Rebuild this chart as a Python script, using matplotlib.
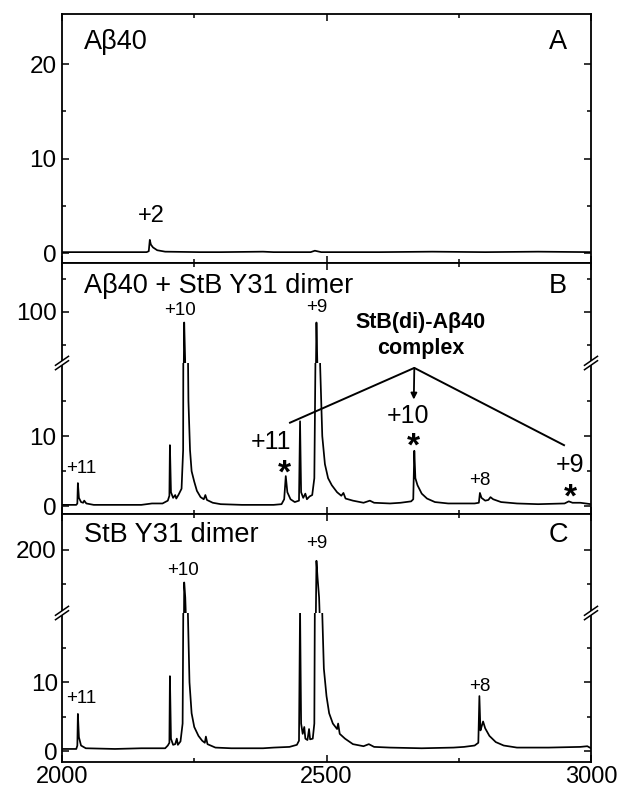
import matplotlib
matplotlib.use('Agg')
import matplotlib.pyplot as plt
from matplotlib.ticker import FixedLocator
from matplotlib.patches import Polygon
from matplotlib.lines import Line2D

plt.rcParams['font.family'] = ['Liberation Sans', 'DejaVu Sans']

a_mz = [2000, 2100, 2160, 2164, 2166, 2168, 2172, 2180, 2195, 2260, 2300, 2380, 2400,
        2470, 2478, 2490, 2600, 2700, 2800, 2900, 3000]
a_int = [0.1, 0.1, 0.1, 0.2, 1.4, 0.9, 0.6, 0.3, 0.15, 0.1, 0.1, 0.15, 0.1,
         0.1, 0.25, 0.1, 0.1, 0.15, 0.1, 0.15, 0.1]

b_mz = [2000, 2027, 2029, 2030, 2032, 2036, 2040, 2042, 2046, 2060, 2150, 2170, 2190,
        2200, 2203, 2204, 2206, 2210, 2214, 2216, 2220, 2226, 2229, 2231, 2233, 2235,
        2237, 2239, 2242, 2245, 2250, 2255, 2262, 2268, 2271, 2274, 2285, 2300, 2340,
        2400, 2415, 2420, 2423, 2426, 2432, 2440, 2448, 2450, 2452, 2456, 2460, 2463,
        2468, 2473, 2477, 2479, 2481, 2483, 2485, 2488, 2492, 2497, 2503, 2510, 2520,
        2528, 2532, 2536, 2550, 2570, 2582, 2590, 2620, 2640, 2660, 2664, 2666, 2668,
        2672, 2680, 2690, 2705, 2730, 2780, 2788, 2790, 2793, 2800, 2806, 2810, 2815,
        2830, 2860, 2900, 2950, 2958, 2965, 2980, 3000]
b_int = [0.2, 0.2, 0.4, 3.3, 1.2, 0.6, 0.5, 0.8, 0.4, 0.2, 0.2, 0.4, 0.4,
         0.8, 1.5, 8.7, 2.0, 1.2, 1.6, 1.1, 1.6, 2.5, 8, 92, 60, 25,
         30, 15, 8, 5, 3.5, 2.2, 1.3, 1.0, 1.6, 0.9, 0.5, 0.3, 0.2,
         0.2, 0.3, 1.0, 4.3, 2.0, 1.0, 0.6, 0.8, 12.1, 2.0, 1.2, 1.8, 1.0,
         1.4, 1.6, 4, 20, 92, 55, 30, 20, 10, 6, 4, 3.0, 2.0,
         1.5, 1.9, 1.1, 0.8, 0.5, 0.8, 0.5, 0.4, 0.5, 0.7, 1.0, 7.9, 4,
         3, 1.8, 1.1, 0.6, 0.4, 0.4, 0.5, 1.9, 1.2, 0.8, 0.9, 1.3, 1.0,
         0.6, 0.4, 0.3, 0.4, 0.7, 0.5, 0.5, 0.3]

c_mz = [2000, 2027, 2029, 2030, 2032, 2036, 2045, 2100, 2150, 2195, 2200, 2203, 2204,
        2206, 2210, 2214, 2217, 2219, 2224, 2228, 2230, 2231, 2233, 2236, 2238, 2241,
        2245, 2250, 2258, 2265, 2270, 2272, 2275, 2290, 2320, 2380, 2400, 2430, 2444,
        2448, 2450, 2452, 2455, 2458, 2460, 2464, 2467, 2469, 2474, 2477, 2479, 2481,
        2483, 2486, 2489, 2492, 2495, 2500, 2505, 2512, 2520, 2522, 2525, 2535, 2550,
        2570, 2580, 2590, 2620, 2680, 2740, 2760, 2780, 2787, 2789, 2791, 2793, 2796,
        2800, 2808, 2820, 2835, 2860, 2920, 2980, 2993, 3000]
c_int = [0.3, 0.3, 0.8, 5.4, 2.0, 0.8, 0.4, 0.3, 0.4, 0.4, 0.8, 1.2, 10.9,
         1.8, 0.9, 1.0, 1.8, 0.9, 1.4, 4, 30, 152, 130, 60, 20, 10,
         5.5, 3.5, 2.2, 1.5, 1.2, 2.1, 1.0, 0.5, 0.4, 0.4, 0.5, 0.6, 0.9,
         1.5, 21, 4, 2.5, 3.5, 1.8, 1.6, 3.2, 1.7, 1.8, 4, 40, 184,
         160, 130, 60, 20, 12, 8, 5.5, 4, 3.2, 4.0, 2.5, 1.8, 1.0,
         0.7, 1.0, 0.6, 0.5, 0.4, 0.5, 0.6, 0.8, 1.2, 8.0, 3, 3.5, 4.3,
         3.3, 2.2, 1.3, 0.8, 0.5, 0.5, 0.6, 0.7, 0.4]

# peak labels: (text, m/z, y)
a_labels = [('+2', 2168, 3.9)]
b_top_labels = [('+10', 2224, 100.8), ('+9', 2481, 103)]
b_low_labels = [('+11', 2037, 5.4), ('+8', 2789, 3.7)]
b_complex = [('+11', 2396, 9.1, 2421, 5.9), ('+10', 2654, 12.9, 2665, 9.7),
             ('+9', 2960, 5.9, 2962, 2.4)]
c_top_labels = [('+10', 2229, 169), ('+9', 2481, 210)]
c_low_labels = [('+11', 2037, 7.6), ('+8', 2790, 9.4)]

W, H = 620, 792
fig = plt.figure(figsize=(W / 100, H / 100), dpi=100)
L = 62 / W
wid = (591 - 62) / W
LW = 1.25


def box(top, bottom):
    return [L, 1 - bottom / H, wid, (bottom - top) / H]


def style(ax, ymaj, ymin, top=True, bottom=True):
    ax.set_xlim(2000, 3000)
    ax.xaxis.set_major_locator(FixedLocator([2000, 2500, 3000]))
    ax.xaxis.set_minor_locator(FixedLocator([2250, 2750]))
    ax.yaxis.set_major_locator(FixedLocator(ymaj))
    ax.yaxis.set_minor_locator(FixedLocator(ymin))
    ax.tick_params(which='both', direction='in', left=True, right=True,
                   top=top, bottom=bottom, labelbottom=False, labelsize=17.5,
                   width=1.1, pad=4)
    ax.tick_params(which='major', length=5)
    ax.tick_params(which='minor', length=3)
    for s in ax.spines.values():
        s.set_linewidth(1.3)
    ax.spines['top'].set_visible(top)
    ax.spines['bottom'].set_visible(bottom)


# panel A
axA = fig.add_axes(box(14, 263))
axA.plot(a_mz, a_int, color='k', lw=LW)
axA.set_ylim(-1.05, 25.3)
style(axA, [0, 10, 20], [5, 15])
axA.text(2041, 22.3, 'Aβ40', fontsize=19.5, va='center')
axA.text(2938, 22.3, 'A', fontsize=19.5, va='center', ha='center')
for t, x, y in a_labels:
    axA.text(x, y, t, fontsize=17, ha='center', va='center')

# panel B (broken axis)
axBu = fig.add_axes(box(263, 363))
axBl = fig.add_axes(box(363, 514))
for ax in (axBu, axBl):
    ax.plot(b_mz, b_int, color='k', lw=LW)
axBu.set_ylim(61.4, 137)
axBl.set_ylim(-1.1, 20.4)
style(axBu, [100], [75, 125], bottom=False)
style(axBl, [0, 10], [5, 15], top=False)
axBu.text(2041, 119.7, 'Aβ40 + StB Y31 dimer', fontsize=19.5, va='center')
axBu.text(2938, 119.7, 'B', fontsize=19.5, va='center', ha='center')
for t, x, y in b_top_labels:
    axBu.text(x, y, t, fontsize=13.5, ha='center', va='center')
for t, x, y in b_low_labels:
    axBl.text(x, y, t, fontsize=13.5, ha='center', va='center')
for t, x, y, sx, sy in b_complex:
    axBl.text(x, y, t, fontsize=18, ha='center', va='center')
    axBl.text(sx, sy - 1.3, '*', fontsize=24, ha='center', va='center',
              fontweight='bold')
axBu.text(2678, 91.7, 'StB(di)-Aβ40', fontsize=15.5, fontweight='bold',
          ha='center', va='center')
axBu.text(2678, 72, 'complex', fontsize=15.5, fontweight='bold',
          ha='center', va='center')
axBl.plot([2431, 2666, 2949], [11.9, 19.7, 8.7], color='k', lw=1.4)
axBl.annotate('', xy=(2665, 15.2), xytext=(2666, 19.7),
              arrowprops=dict(arrowstyle='-|>', color='k', lw=1.3,
                              mutation_scale=9, shrinkA=0, shrinkB=0))

# panel C (broken axis)
axCu = fig.add_axes(box(514, 613))
axCl = fig.add_axes(box(613, 762))
for ax in (axCu, axCl):
    ax.plot(c_mz, c_int, color='k', lw=LW)
axCu.set_ylim(107, 253)
axCl.set_ylim(-1.6, 20.1)
style(axCu, [200], [150], bottom=False)
style(axCl, [0, 10], [5, 15], top=False)
axCl.tick_params(labelbottom=True, pad=3)
axCl.tick_params(axis='x', labelsize=17)
axCu.text(2041, 222, 'StB Y31 dimer', fontsize=19.5, va='center')
axCu.text(2938, 222, 'C', fontsize=19.5, va='center', ha='center')
for t, x, y in c_top_labels:
    axCu.text(x, y, t, fontsize=13.5, ha='center', va='center')
for t, x, y in c_low_labels:
    axCl.text(x, y, t, fontsize=13.5, ha='center', va='center')


def break_mark(xpix, ypix):
    x, y = xpix / W, 1 - ypix / H
    dx, dy, g = 6.5 / W, 4.5 / H, 2.2 / H
    fig.add_artist(Polygon([[x - dx, y - dy - g], [x + dx, y + dy - g],
                            [x + dx, y + dy + g], [x - dx, y - dy + g]],
                           closed=True, transform=fig.transFigure,
                           fc='white', ec='none', zorder=10))
    for s in (-g, g):
        fig.add_artist(Line2D([x - dx, x + dx], [y - dy + s, y + dy + s],
                              transform=fig.transFigure, color='k', lw=1.1,
                              zorder=11))


for yb in (363, 613):
    break_mark(62, yb)
    break_mark(591, yb)

fig.savefig('out.png', dpi=100)
